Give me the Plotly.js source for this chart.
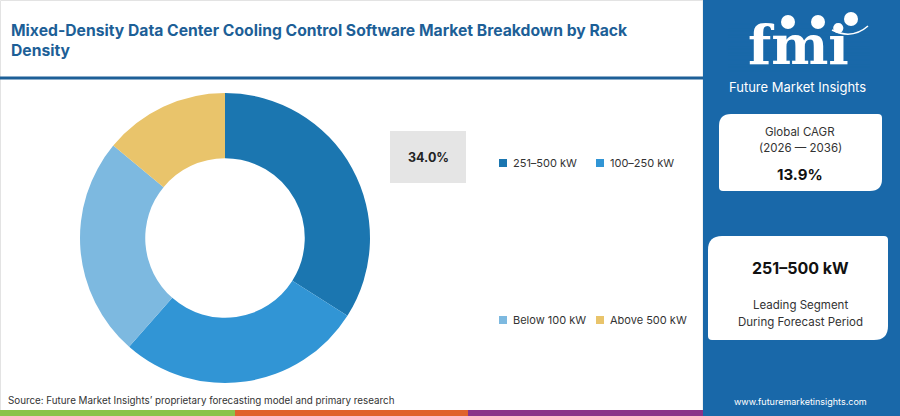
<!DOCTYPE html>
<html><head><meta charset="utf-8">
<script src="https://cdn.plot.ly/plotly-3.0.1.min.js"></script>
<style>html,body{margin:0;padding:0;background:#fff}#c{width:900px;height:416px}</style>
</head><body><div id="c"></div>
<script>
const segments = ["251–500 kW", "100–250 kW", "Below 100 kW", "Above 500 kW"];
const shares = [34.0, 27.5, 24.5, 14.0];
const colors = ["#1b76b0", "#3195d5", "#7db9e0", "#e9c46b"];
const highlightLabel = "34.0%";
const cagrTitle = ["Global CAGR", "(2026 — 2036)"];
const cagrValue = "13.9%";
const leadingSegment = "251–500 kW";
const leadingCaption = ["Leading Segment", "During Forecast Period"];
const titleText = "Mixed-Density Data Center Cooling Control Software Market Breakdown by Rack<br>Density";
const sourceText = "Source: Future Market Insights’ proprietary forecasting model and primary research";
const siteText = "www.futuremarketinsights.com";

const FONT = "Inter, 'Open Sans', sans-serif";
const panelBlue = "#1968a9";
const titleBlue = "#1d5f97";

const shapes = [];
const annotations = [];
function rect(x0,y0,x1,y1,fill,layer){shapes.push({type:'rect',xref:'x',yref:'y',x0,y0,x1,y1,fillcolor:fill,line:{width:0},layer:layer||'below'});}
function txt(x,y,t,size,color,bold,anchor){annotations.push({xref:'x',yref:'y',x,y,text:bold?'<b>'+t+'</b>':t,showarrow:false,xanchor:anchor||'center',yanchor:'middle',font:{family:FONT,size,color}});}
function rrect(x0,y0,x1,y1,rBig,rSmall,fill){
  const p=`M${x0+rBig},${y0} L${x1-rSmall},${y0} Q${x1},${y0} ${x1},${y0+rSmall} L${x1},${y1-rBig} Q${x1},${y1} ${x1-rBig},${y1} L${x0+rSmall},${y1} Q${x0},${y1} ${x0},${y1-rSmall} L${x0},${y0+rBig} Q${x0},${y0} ${x0+rBig},${y0} Z`;
  shapes.push({type:'path',xref:'x',yref:'y',path:p,fillcolor:fill,line:{width:0},layer:'above'});
}

// outer border
shapes.push({type:'rect',xref:'x',yref:'y',x0:0.5,y0:0.5,x1:703,y1:415.5,line:{color:'#e3e3e3',width:1},fillcolor:'rgba(0,0,0,0)',layer:'below'});
// title underline
shapes.push({type:'line',xref:'x',yref:'y',x0:0,x1:703,y0:78,y1:78,line:{color:titleBlue,width:3},layer:'below'});
// right panel
rect(703,0,900,416,panelBlue,'below');
// bottom strip
rect(0,410,235,416,'#8bc34a','below');
rect(235,410,468,416,'#e0622c','below');
rect(468,410,703,416,'#8a3388','below');

// highlight box
rect(390,131,466,183,'#e5e5e5','below');
txt(428,157,highlightLabel,12.5,'#222',true);

// legend (built from data arrays)
const legRows=[{y:163,idx:[0,1]},{y:320,idx:[2,3]}];
const legX=[503,600];
legRows.forEach(r=>r.idx.forEach((k,j)=>{
  rect(legX[j]-4,r.y-4,legX[j]+4,r.y+4,colors[k],'above');
  txt(legX[j]+8,r.y,segments[k],11,'#333',false,'left');
}));

// logo
annotations.push({xref:'x',yref:'y',x:798,y:45,text:'<b>fmi</b>',showarrow:false,xanchor:'center',yanchor:'middle',font:{family:"'DejaVu Serif', serif",size:54,color:'#ffffff'}});
for(let yy=24; yy<=72; yy+=3.6){shapes.push({type:'line',xref:'x',yref:'y',x0:728,x1:870,y0:yy,y1:yy,line:{color:panelBlue,width:1.1},layer:'above'});}
[[788,22],[818,22],[851,19]].forEach(c=>shapes.push({type:'circle',xref:'x',yref:'y',x0:c[0]-7,x1:c[0]+7,y0:c[1]-7,y1:c[1]+7,fillcolor:'#ffffff',line:{width:0},layer:'above'}));
shapes.push({type:'path',xref:'x',yref:'y',path:'M832,30 Q852,40 868,26',line:{color:'#ffffff',width:1.5},layer:'above'});
txt(797,87,'Future Market Insights',13,'#ffffff',false);

// cards
rrect(719,114,882,191,12,4,'#ffffff');
txt(800,132,cagrTitle[0],11.5,'#333',false);
txt(800,148,cagrTitle[1],11.5,'#333',false);
txt(800,174,cagrValue,15,'#111',true);
rrect(708,236,888,340,14,4,'#ffffff');
txt(800,268,leadingSegment,16,'#111',true);
txt(800,305,leadingCaption[0],11.5,'#333',false);
txt(800,322,leadingCaption[1],11.5,'#333',false);

// source & site
txt(6,400,sourceText,9.8,'#333',false,'left');
txt(800,401,siteText,9,'#ffffff',false);

// title
annotations.push({xref:'x',yref:'y',x:9,y:40,text:'<b>'+titleText+'</b>',showarrow:false,xanchor:'left',yanchor:'middle',align:'left',font:{family:FONT,size:15.7,color:titleBlue}});

const data=[
  {type:'scatter',x:[null],y:[null],xaxis:'x',yaxis:'y',showlegend:false,hoverinfo:'skip'},
  {type:'pie',labels:segments,values:shares,marker:{colors:colors,line:{width:0}},hole:0.55,sort:false,direction:'clockwise',rotation:0,
   textinfo:'none',hoverinfo:'label+percent',showlegend:false,domain:{x:[80/900,370/900],y:[33/416,323/416]}}
];
const layout={width:900,height:416,margin:{l:0,r:0,t:0,b:0},paper_bgcolor:'#ffffff',plot_bgcolor:'rgba(0,0,0,0)',
  xaxis:{range:[0,900],visible:false,fixedrange:true,domain:[0,1]},
  yaxis:{range:[416,0],visible:false,fixedrange:true,domain:[0,1]},
  showlegend:false,shapes,annotations,font:{family:FONT}};
Plotly.newPlot('c',data,layout,{displayModeBar:false,staticPlot:true});
</script></body></html>
